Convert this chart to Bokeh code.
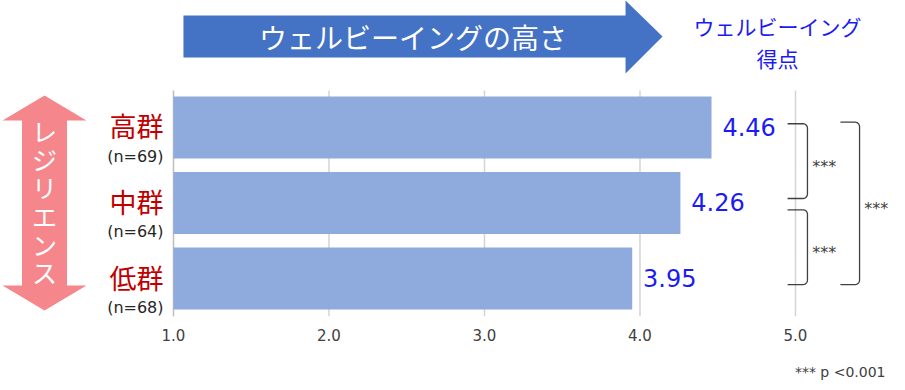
import numpy as np
from bokeh.plotting import figure
from bokeh.models import Range1d, FixedTicker, Title
from bokeh.core.properties import value
from bokeh.embed import file_html
from bokeh.resources import INLINE

# ---- data ----
groups = ["高群", "中群", "低群"]
group_n = ["(n=69)", "(n=64)", "(n=68)"]
scores = [4.46, 4.26, 3.95]
tick_values = [1.0, 2.0, 3.0, 4.0, 5.0]
tick_labels = ["1.0", "2.0", "3.0", "4.0", "5.0"]
comparisons = [(0, 1), (1, 2), (0, 2)]
comparison_marks = ["***", "***", "***"]
footnote = "*** p <0.001"
header_arrow_text = "ウェルビーイングの高さ"
header_score_text = ["ウェルビーイング", "得点"]
side_arrow_text = "レジリエンス"

# ---- layout / style ----
y_pos = [3, 2, 1]
FW, FH = 889, 316
x_start = -0.1125
x_end = x_start + FW / 155.5
y_start, y_end = 0.497, 4.682
bar_h = 0.82
JP = value("Noto Sans CJK JP")
NUM = value("DejaVu Sans")
BLUE_TXT = "#1c1cf0"

p = figure(frame_width=FW, frame_height=FH, x_range=Range1d(x_start, x_end),
           y_range=Range1d(y_start, y_end), output_backend="svg",
           toolbar_location=None, y_axis_location=None,
           min_border_left=0, min_border_right=0, min_border_top=0,
           min_border_bottom=0)
p.outline_line_color = None
p.xgrid.visible = False
p.ygrid.visible = False

# gridlines
grid_colors = ["#bdbdbd"] + ["#d4d4d4"] * (len(tick_values) - 1)
p.segment(x0=tick_values, x1=tick_values, y0=[y_start] * len(tick_values),
          y1=[3.49] * len(tick_values), line_color=grid_colors, line_width=1.5)

# bars
p.hbar(y=y_pos, left=tick_values[0], right=scores, height=bar_h,
       fill_color="#8FAADC", line_color=None)

# value labels
p.text(x=[s + 0.07 for s in scores], y=[y + 0.01 for y in y_pos],
       text=[f"{s:.2f}" for s in scores], text_align="left",
       text_baseline="middle", text_font=NUM, text_font_size="24px",
       text_color=BLUE_TXT)

# group labels
p.text(x=[0.936] * 3, y=[y + 0.02 for y in y_pos], text=groups,
       text_align="right", text_baseline="middle", text_font=JP,
       text_font_size="27px", text_color="#C00000")
p.text(x=[0.936] * 3, y=[y - 0.38 for y in y_pos], text=group_n,
       text_align="right", text_baseline="middle", text_font=NUM,
       text_font_size="16px", text_color="#262626")

# significance braces
brace_x = [(4.949, 5.077), (4.949, 5.077), (5.289, 5.412)]
brace_trim = [(0.05, 0.06), (-0.09, -0.08), (0.07, -0.08)]
rx, ry = 0.028, 0.06
xs, ys, sx, sy = [], [], [], []
for (i, j), (x0, x1), (tt, tb) in zip(comparisons, brace_x, brace_trim):
    top = y_pos[i] + tt
    bot = y_pos[j] + tb
    t = np.linspace(0, np.pi / 2, 8)
    bx = [x0] + list(x1 - rx + rx * np.sin(t)) + list(x1 - rx + rx * np.cos(t)) + [x0]
    by = [top] + list(top - ry + ry * np.cos(t)) + list(bot + ry - ry * np.sin(t)) + [bot]
    xs.append(bx)
    ys.append(by)
    sx.append(x1 + 0.03)
    sy.append((top + bot) / 2 - 0.07)
p.multi_line(xs=xs, ys=ys, line_color="#404040", line_width=1.3)
p.text(x=sx, y=sy, text=comparison_marks, text_align="left",
       text_baseline="middle", text_font=value("DejaVu Sans"),
       text_font_size="16px", text_color="#404040")

# top blue arrow
p.patch(x=[1.064, 3.907, 3.907, 4.145, 3.907, 3.907, 1.064],
        y=[4.483, 4.483, 4.682, 4.205, 3.715, 3.927, 3.927],
        fill_color="#4472C4", line_color=None)
p.text(x=[2.54], y=[4.205], text=[header_arrow_text], text_align="center",
       text_baseline="middle", text_font=JP, text_font_size="28px",
       text_color="white")
p.text(x=[4.884, 4.884], y=[4.338, 3.927], text=header_score_text,
       text_align="center", text_baseline="middle", text_font=JP,
       text_font_size="21px", text_color=BLUE_TXT)

# side pink double arrow
cx, hw, sw = 0.1704, 0.27, 0.1447
p.patch(x=[cx, cx + hw, cx + sw, cx + sw, cx + hw, cx, cx - hw, cx - sw, cx - sw, cx - hw],
        y=[3.424, 3.093, 3.093, 0.907, 0.907, 0.576, 0.907, 0.907, 3.093, 3.093],
        fill_color="#F5868B", line_color=None)
chars = list(side_arrow_text)
step = 0.376
mid = 2.02
p.text(x=[cx] * len(chars),
       y=[mid + (len(chars) - 1) / 2 * step - k * step for k in range(len(chars))],
       text=chars, text_align="center", text_baseline="middle", text_font=JP,
       text_font_size="25px", text_color="white")

# x axis
p.xaxis.ticker = FixedTicker(ticks=tick_values)
p.xaxis.major_label_overrides = {v: l for v, l in zip(tick_values, tick_labels)}
p.xaxis.axis_line_color = None
p.xaxis.major_tick_line_color = None
p.xaxis.major_tick_out = 0
p.xaxis.major_tick_in = 0
p.xaxis.minor_tick_line_color = None
p.xaxis.major_label_standoff = 12
p.xaxis.major_label_text_font = "DejaVu Sans"
p.xaxis.major_label_text_font_size = "15px"
p.xaxis.major_label_text_color = "#404040"

t = Title(text=footnote, align="right", text_font_size="14px",
          text_font_style="normal", text_color="#404040",
          text_font="DejaVu Sans", offset=4, standoff=36)
p.add_layout(t, "below")

open("out.html", "w").write(file_html(p, INLINE))
